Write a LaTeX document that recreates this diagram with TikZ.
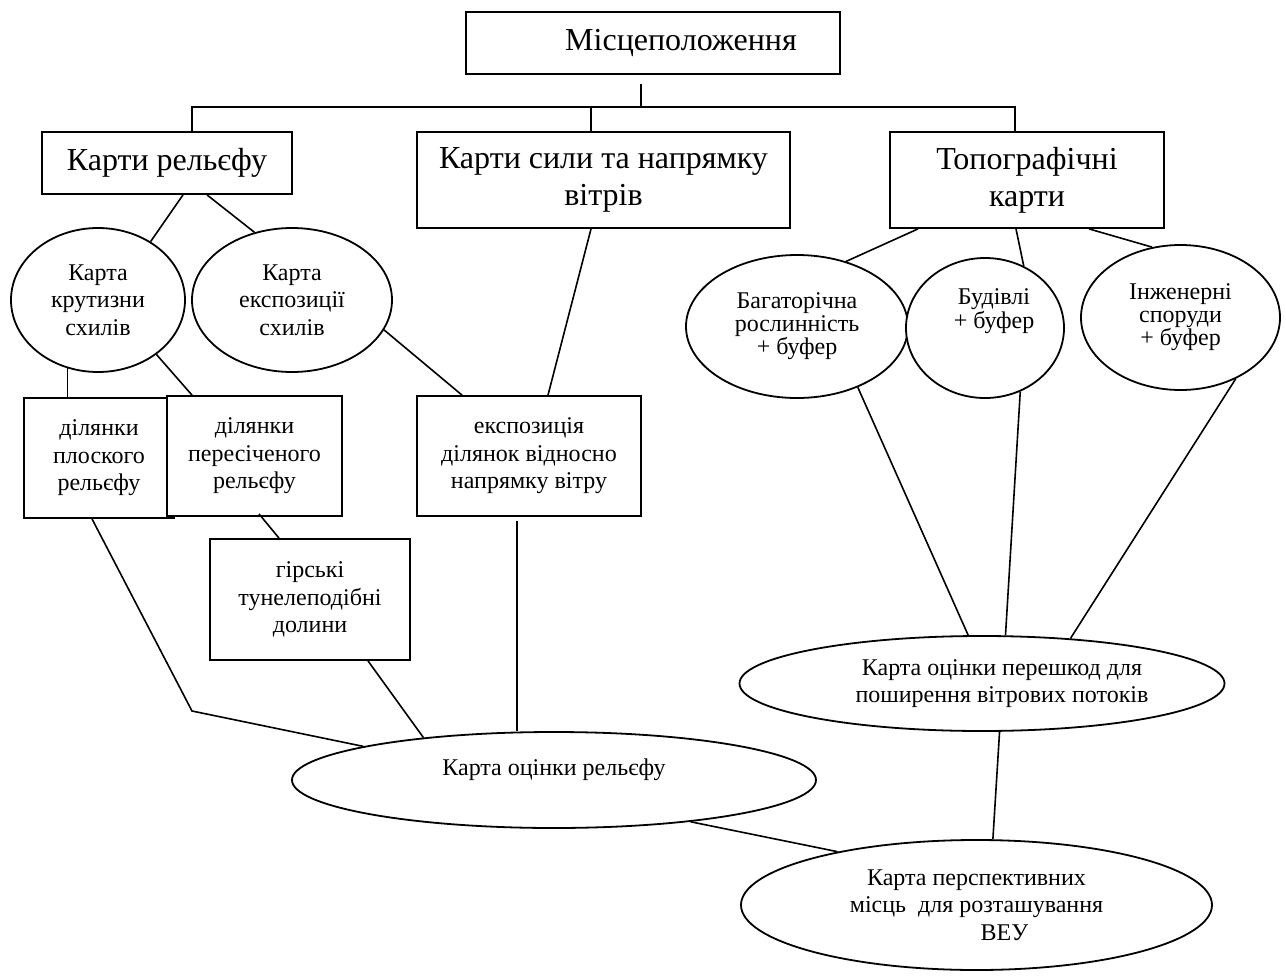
\documentclass[tikz,border=0pt]{standalone}
\usepackage{fontspec}
\setmainfont{Liberation Serif}
\usetikzlibrary{shapes.geometric}

\newcommand{\liftup}[2]{\raisebox{#1}[\height][\depth]{#2}}

\begin{document}
\begin{tikzpicture}[x=0.5pt,y=-0.5pt,
    box/.style={draw,line width=0.9pt,fill=white,inner sep=0pt,align=center},
    oval/.style={draw,ellipse,line width=0.9pt,fill=white,inner sep=0pt,align=center},
    big/.style={font=\fontsize{16}{18.4}\selectfont},
    small/.style={font=\fontsize{12}{13.8}\selectfont},
    tight/.style={font=\fontsize{12}{11.5}\selectfont},
    link/.style={line width=0.8pt}]
    \useasboundingbox (0,0) rectangle (1286,980);

      % Top
      \node[box,big,minimum width=187pt,minimum height=31pt] (place) at (653,43) {\hspace*{28pt}Місцеположення};
      \coordinate (bus) at (641,107);

      % Groups of maps
      \node[box,big,minimum width=125pt,minimum height=31pt] (relief) at (167,163) {Карти рельєфу};
      \node[box,big,minimum width=186.5pt,minimum height=48pt] (wind) at (603.5,180) {Карти сили та напрямку\\вітрів};
      \node[box,big,minimum width=137pt,minimum height=48pt] (topo) at (1027,180) {Топографічні\\карти};

      % Relief
      \node[oval,small,minimum width=87pt,minimum height=72pt] (slope) at (98,300) {Карта\\крутизни\\схилів};
      \node[oval,small,minimum width=100pt,minimum height=72pt] (aspect) at (292,300) {Карта\\експозиції\\схилів};
      \node[box,small,minimum width=75pt,minimum height=60pt] (flat) at (99,458) {ділянки\\плоского\\рельєфу};
      \node[box,small,minimum width=87.5pt,minimum height=60pt] (cross) at (254.5,456) {ділянки\\пересіченого\\рельєфу};
      \node[box,small,minimum width=100pt,minimum height=60.5pt] (valley) at (310,599.5) {гірські\\тунелеподібні\\долини};
      \node[box,small,minimum width=112pt,minimum height=60pt] (expo) at (529,456) {експозиція\\ділянок відносно\\напрямку вітру};
      \coordinate (bend) at (192,711);

      % Obstacles
      \node[oval,tight,minimum width=111pt,minimum height=71.5pt] (veg) at (797,326.5) {Багаторічна\\рослинність\\+ буфер};
      \node[oval,tight,minimum width=79pt,minimum height=70pt] (bld) at (985,328) {\hspace*{9pt}\liftup{8pt}{\begin{tabular}{@{}c@{}}Будівлі\\+ буфер\end{tabular}}};
      \node[oval,tight,minimum width=99.5pt,minimum height=72.5pt] (eng) at (1180.5,317.5) {Інженерні\\споруди\\+ буфер};

      % Results
      \node[oval,small,minimum width=242.5pt,minimum height=47.5pt] (obst) at (982,683.5) {\hspace*{20pt}Карта оцінки перешкод для\\\hspace*{20pt}поширення вітрових потоків};
      \node[oval,small,minimum width=262pt,minimum height=48pt] (relmap) at (554,780) {\liftup{5pt}{Карта оцінки рельєфу}};
      \node[oval,small,minimum width=235.5pt,minimum height=65pt] (final) at (976.5,905) {Карта перспективних\\місць\ \ для розташування\\\hspace*{28pt}ВЕУ};

      % Tree
      \draw[link] ([xshift=-6pt,yshift=-4.5pt]place.south) -- (bus);
      \draw[link] ([xshift=12.5pt]relief.north) |- (bus) -| ([xshift=-6pt]topo.north);
      \draw[link] ([xshift=-6.25pt]wind.north) -- ([xshift=-6.25pt]wind.north |- bus);

      % Relief links
      \draw[link] ([xshift=8pt]relief.south) -- (slope.48);
      \draw[link] ([xshift=20pt]relief.south) -- (aspect.119);
      \draw[link] ([xshift=-6.25pt]wind.south) -- ([xshift=9.5pt]expo.north);
      \draw[link] (slope.246) -- (slope.246 |- flat.north);
      \draw[link] (slope.-43) -- ([xshift=-31.25pt]cross.north);
      \draw[link] ([xshift=2.25pt,yshift=1.5pt]cross.south) -- ([xshift=-15.5pt]valley.north);
      \draw[link] (aspect.-18) -- ([xshift=-33.5pt]expo.north);
      \draw[link] ([xshift=-3.5pt]flat.south) -- (bend) -- (relmap.170);
      \draw[link] ([xshift=29pt]valley.south) -- (relmap.162);
      \draw[link] ([xshift=-6pt,yshift=-2pt]expo.south) -- ([xshift=-6pt]expo.south |- relmap.north);
      \draw[link] (relmap.-17) -- (final.159);

      % Obstacle links
      \draw[link] ([xshift=-54.5pt]topo.south) -- (veg.53);
      \draw[link] ([xshift=-5.5pt]topo.south) -- (bld.58);
      \draw[link] ([xshift=31pt]topo.south) -- (eng.112);
      \draw[link] (veg.-45) -- (obst.106);
      \draw[link] (bld.-61) -- (obst.64);
      \draw[link] (eng.-48) -- (obst.27);
      \draw[link] (obst.-70) -- (final.76);
  \end{tikzpicture}
\end{document}
